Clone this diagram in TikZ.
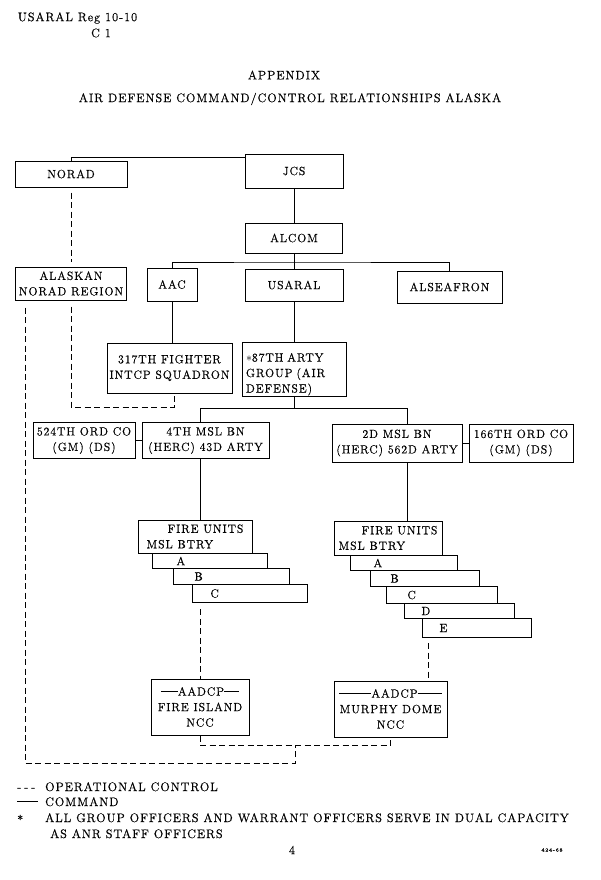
\documentclass[tikz,border=0pt]{standalone}
\usepackage{fontspec}
\setmainfont{Latin Modern Roman}[LetterSpace=8, FakeBold=0.6]
\usetikzlibrary{positioning, calc}
\newcommand{\chartfont}{\fontsize{11.8}{15.5}\selectfont}
\newcommand{\notefont}{\fontsize{12.3}{15.5}\selectfont}
\newcommand{\aadcp}[2]{\rule[0.75ex]{#1}{0.8pt}AADCP\rule[0.75ex]{#2}{0.8pt}}
\tikzset{
    unitbox/.style={
        rectangle,
        draw,
        line width=1pt,
        inner sep=1pt,
        align=center,
        font=\chartfont
    },
    btrybox/.style={
        rectangle,
        draw,
        line width=1pt,
        inner sep=0pt,
        anchor=north west,
        align=left,
        text width=#1,
        font=\chartfont
    },
    cmdline/.style={line width=0.9pt},
    opline/.style={line width=0.9pt, dash pattern=on 6pt off 3.5pt},
    plaintext/.style={inner sep=0pt, font=\notefont}
}

\begin{document}
\begin{tikzpicture}[x=1pt,y=-1pt]
    \useasboundingbox (0,0) rectangle (600,880);
    % page heading
    \node[plaintext] (regno) at (77.5,18) {USARAL Reg 10-10};
    \node[plaintext] (change) at (101,33) {C 1};
    \node[plaintext] (appendix) at (284,75) {APPENDIX};
    \node[plaintext] (title) at (290,99) {AIR DEFENSE COMMAND/CONTROL RELATIONSHIPS ALASKA};

    % upper commands
    \node[unitbox, minimum width=112pt, minimum height=26pt] (norad) at (71,174) {NORAD};
    \node[unitbox, minimum width=98pt, minimum height=34pt] (jcs) at (294,171) {JCS};
    \node[unitbox, minimum width=97pt, minimum height=30pt] (alcom) at (294,238) {ALCOM};
    \node[unitbox, minimum width=111pt, minimum height=33pt] (alaskan) at (71,283.5) {ALASKAN\\NORAD REGION};
    \node[unitbox, minimum width=50pt, minimum height=33pt] (aac) at (172,284.5) {AAC};
    \node[unitbox, minimum width=98pt, minimum height=32pt] (usaral) at (294,285) {USARAL};
    \node[unitbox, minimum width=105pt, minimum height=32pt] (alseafron) at (449.5,287) {ALSEAFRON};
    \node[unitbox, minimum width=125pt, minimum height=50pt] (fighter) at (169.5,368) {317TH FIGHTER\\INTCP SQUADRON};
    \node[unitbox, minimum width=104pt, minimum height=51pt, align=left, text width=96pt] (arty) at (294,369.5) {\rule{0pt}{18pt}$\ast$87TH ARTY\\GROUP (AIR\\DEFENSE)};

    % battalions
    \node[unitbox, minimum width=102pt, minimum height=36pt] (ord524) at (84,440.5) {524TH ORD CO\\(GM) (DS)};
    \node[unitbox, minimum width=127pt, minimum height=36pt] (bn4) at (205.5,440.5) {4TH MSL BN\\(HERC) 43D ARTY};
    \node[unitbox, minimum width=130pt, minimum height=38pt] (bn2) at (397,443) {2D MSL BN\\(HERC) 562D ARTY};
    \node[unitbox, minimum width=104pt, minimum height=38pt] (ord166) at (521,443) {166TH ORD CO\\(GM) (DS)};

    % fire units
    \node[unitbox, minimum width=114pt, minimum height=33pt, align=left] (fireL) at (195,536.5) {\hspace*{21pt}FIRE UNITS\\MSL BTRY};
    \node[btrybox=115pt, minimum height=15pt] (btryAL) at (152,553) {\hspace*{24pt}A};
    \node[btrybox=116pt, minimum height=16pt] (btryBL) at (173,568) {\hspace*{21pt}B};
    \node[btrybox=115pt, minimum height=18pt] (btryCL) at (192,584) {\hspace*{18pt}C};

    \node[unitbox, minimum width=108pt, minimum height=34pt, align=left] (fireR) at (388,538) {\hspace*{23pt}FIRE UNITS\\MSL BTRY};
    \node[btrybox=107pt, minimum height=15pt] (btryAR) at (350,555) {\hspace*{23pt}A};
    \node[btrybox=109pt, minimum height=16pt] (btryBR) at (370,570) {\hspace*{20pt}B};
    \node[btrybox=111pt, minimum height=17pt] (btryCR) at (386,586) {\hspace*{21pt}C};
    \node[btrybox=110pt, minimum height=15pt] (btryDR) at (404,603) {\hspace*{17pt}D};
    \node[btrybox=109pt, minimum height=19pt] (btryER) at (422,618) {\hspace*{17pt}E};

    % control posts
    \node[unitbox, minimum width=98pt, minimum height=56pt] (fireisland) at (200,707) {\aadcp{17pt}{15pt}\\FIRE ISLAND\\NCC};
    \node[unitbox, minimum width=113pt, minimum height=56pt] (murphy) at (390.5,709) {\aadcp{32pt}{24pt}\\MURPHY DOME\\NCC};

    % command lines
    \coordinate (bar) at (294,262);
    \coordinate (splitL) at (200,408);
    \coordinate (splitR) at (407,408);
    \draw[cmdline] (norad.north) |- ($(jcs.north west)+(0,4)$);
    \draw[cmdline] (jcs.south) -- (alcom.north);
    \draw[cmdline] (alcom.south) -- (usaral.north);
    \draw[cmdline] (aac.north) |- (bar) -| (alseafron.north);
    \draw[cmdline] (aac.south) -- (aac.south |- fighter.north);
    \draw[cmdline] (usaral.south) -- (arty.north);
    \draw[cmdline] (arty.south) -- (arty.south |- splitL);
    \draw[cmdline] (bn4.north -| splitL) -- (splitL) -- (splitR) -- (bn2.north -| splitR);
    \draw[cmdline] (ord524.east) -- (bn4.west);
    \draw[cmdline] (bn2.east) -- (ord166.west);
    \draw[cmdline] (bn4.south -| splitL) -- (fireL.north -| splitL);
    \draw[cmdline] (bn2.south -| splitR) -- (fireR.north -| splitR);

    % operational control lines
    \coordinate (opfighter) at (174,407);
    \coordinate (opleft) at (25,763);
    \coordinate (opjoin) at (295,745);
    \coordinate (opmurphy) at ($(btryER.south west)+(6,0)$);
    \draw[opline, shorten <=5pt, shorten >=5pt] (norad.south) -- (alaskan.north);
    \draw[opline, shorten <=6pt] (alaskan.south) |- (opfighter) -- (opfighter |- fighter.south);
    \draw[opline, shorten <=7pt] (alaskan.south -| opleft) -- (opleft) -| (opjoin);
    \draw[opline] (fireisland.south) |- (opjoin) -| (murphy.south);
    \draw[opline, shorten <=6pt] (btryCL.south -| fireisland.north) -- (fireisland.north);
    \draw[opline, shorten <=5pt] (opmurphy) -- (opmurphy |- murphy.north);

    % legend
    \node[plaintext, anchor=base west] (keyop) at (17,791) {-\kern3pt-\kern3pt-};
    \node[plaintext, anchor=base west] (keyoptext) at (45,791) {OPERATIONAL CONTROL};
    \node[plaintext, anchor=base west] (keycmd) at (17,806) {\rule[0.75ex]{21pt}{0.7pt}};
    \node[plaintext, anchor=base west] (keycmdtext) at (45,806) {COMMAND};
    \node[plaintext, anchor=base west] (keystar) at (17,824) {*};
    \node[plaintext, anchor=base west] (keystartext) at (45,822) {ALL GROUP OFFICERS AND WARRANT OFFICERS SERVE IN DUAL CAPACITY};
    \node[plaintext, anchor=base west] (keystarmore) at (50,838) {AS ANR STAFF OFFICERS};
    \node[plaintext] (pageno) at (292,850) {4};
    \node[plaintext, font=\fontsize{5}{6}\selectfont] (printcode) at (552,850) {424-68};
\end{tikzpicture}
\end{document}
